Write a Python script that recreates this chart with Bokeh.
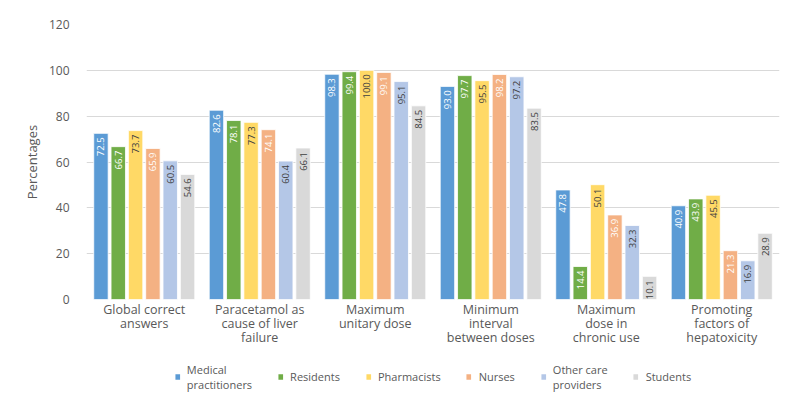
from bokeh.plotting import figure
from bokeh.layouts import column
from bokeh.models import ColumnDataSource, FactorRange, Range1d, Legend, LegendItem, FixedTicker
from bokeh.transform import dodge
from bokeh.core.properties import value
from bokeh.embed import file_html
from bokeh.resources import INLINE
import math

categories = ["Global correct\nanswers", "Paracetamol as\ncause of liver\nfailure", "Maximum\nunitary dose",
              "Minimum\ninterval\nbetween doses", "Maximum\ndose in\nchronic use", "Promoting\nfactors of\nhepatoxicity"]
series_names = ["Medical\npractitioners", "Residents", "Pharmacists", "Nurses", "Other care\nproviders", "Students"]
medical = [72.5, 82.6, 98.3, 93.0, 47.8, 40.9]
residents = [66.7, 78.1, 99.4, 97.7, 14.4, 43.9]
pharmacists = [73.7, 77.3, 100.0, 95.5, 50.1, 45.5]
nurses = [65.9, 74.1, 99.1, 98.2, 36.9, 21.3]
other = [60.5, 60.4, 95.1, 97.2, 32.3, 16.9]
students = [54.6, 66.1, 84.5, 83.5, 10.1, 28.9]
y_ticks = [0, 20, 40, 60, 80, 100, 120]

series_values = [medical, residents, pharmacists, nurses, other, students]
colors = ["#5B9BD5", "#70AD47", "#FFD966", "#F4B183", "#B4C7E7", "#D9D9D9"]
label_colors = ["white", "white", "#404040", "white", "#404040", "#404040"]
FONT = "Open Sans"
TXT = "#595959"

p = figure(width=789, height=361, x_range=FactorRange(factors=categories), y_range=Range1d(0, 120),
           output_backend="svg", toolbar_location=None, min_border_left=86, min_border_right=10,
           min_border_top=24, min_border_bottom=62)
p.outline_line_color = None

offsets = [-0.375, -0.225, -0.075, 0.075, 0.225, 0.375]
for vals, col, lcol, off in zip(series_values, colors, label_colors, offsets):
    src = ColumnDataSource(dict(cat=categories, val=vals, lab=["%.1f" % v for v in vals]))
    p.vbar(x=dodge("cat", off, range=p.x_range), top="val", width=0.125, source=src,
           fill_color=col, line_color="white", line_width=0.8)
    p.text(x=dodge("cat", off, range=p.x_range), y="val", text="lab", source=src, angle=math.pi / 2,
           text_align="right", text_baseline="middle", y_offset=4, text_color=lcol,
           text_font=value(FONT), text_font_size="9.5px")

p.yaxis.ticker = FixedTicker(ticks=y_ticks)
p.ygrid.ticker = FixedTicker(ticks=y_ticks)
p.xgrid.grid_line_color = None
p.ygrid.grid_line_color = "#D9D9D9"
p.ygrid.grid_line_width = 1

for ax in [p.xaxis[0], p.yaxis[0]]:
    ax.axis_line_color = None
    ax.major_tick_line_color = None
    ax.minor_tick_line_color = None
    ax.major_label_text_font = FONT
    ax.major_label_text_color = TXT
ax = p.xaxis[0]
ax.major_label_text_font_size = "12.5px"
ax.major_label_text_line_height = 0.83
p.yaxis.major_label_text_font_size = "12px"

p.yaxis.axis_label = "Percentages"
p.yaxis.axis_label_text_font = FONT
p.yaxis.axis_label_text_font_style = "normal"
p.yaxis.axis_label_text_font_size = "13px"
p.yaxis.axis_label_text_color = TXT
p.yaxis.major_label_standoff = 11
p.yaxis.axis_label_standoff = 5
p.xaxis.major_label_standoff = -5

# legend panel
lg = figure(width=789, height=31, output_backend="svg", toolbar_location=None,
            x_range=Range1d(0, 1), y_range=Range1d(0, 1),
            x_axis_type=None, y_axis_type=None, min_border_left=86, min_border_right=10,
            min_border_top=0, min_border_bottom=0)
lg.outline_line_color = None
lg.xgrid.grid_line_color = None
lg.ygrid.grid_line_color = None
items = []
for name, col in zip(series_names, colors):
    r = lg.vbar(x=[0.5], top=[0], bottom=[0], width=0.0, fill_color=col, line_color=None)
    items.append(LegendItem(label=name, renderers=[r]))
legend = Legend(items=items, orientation="horizontal", location="center",
                label_text_font=FONT, label_text_font_size="11px", label_text_color=TXT,
                glyph_width=6, glyph_height=7, spacing=25, label_standoff=7,
                border_line_color=None, background_fill_alpha=0, padding=0, margin=0,
                label_text_baseline="middle", label_text_line_height=0.8)
lg.add_layout(legend, "center")

open("out.html", "w").write(file_html(column(p, lg), INLINE))
